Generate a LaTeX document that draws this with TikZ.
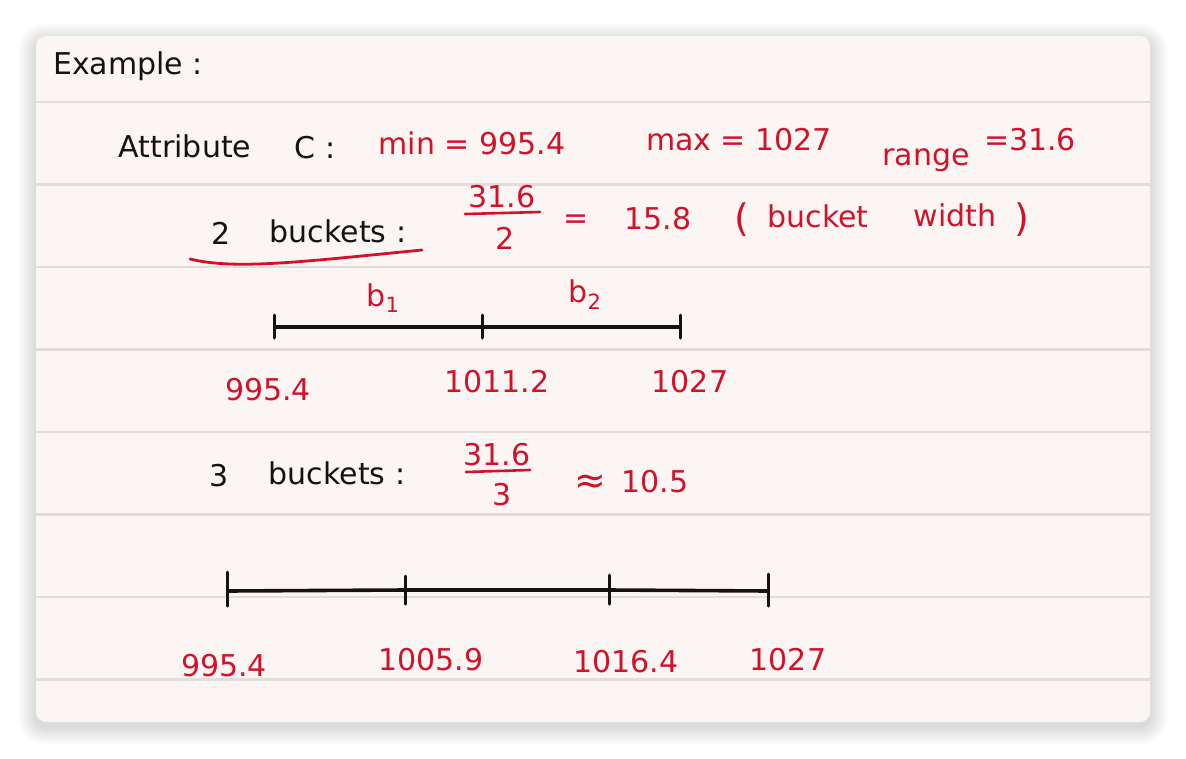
\documentclass[tikz,border=0pt]{standalone}
\usepackage{fontspec}
\setmainfont{DejaVu Sans}
\definecolor{ink}{RGB}{20,18,18}
\definecolor{redink}{RGB}{208,18,42}
\definecolor{paper}{RGB}{251,246,244}
\definecolor{rule}{RGB}{226,221,218}
\tikzset{
  hand/.style={inner sep=0pt, font=\fontsize{30}{32}\selectfont},
  blk/.style={hand, text=ink},
  rd/.style={hand, text=redink},
  big/.style={font=\fontsize{38}{40}\selectfont},
  axisline/.style={draw=ink, line width=3.6pt},
  tick/.style={draw=ink, line width=3pt, line cap=round},
  fracbar/.style={draw=redink, line width=2.6pt, line cap=round},
  paperline/.style={draw=rule, line width=2.6pt}
}
\begin{document}
\begin{tikzpicture}[x=1pt,y=-1pt]
\useasboundingbox (0,0) rectangle (1186,758);
\fill[white] (0,0) rectangle (1186,758);
% soft shadow
\foreach \i [evaluate=\i as \r using 10+\i] in {1,...,18} {
  \fill[black, opacity=0.008, rounded corners=\r pt] (36-\i,36-\i+5) rectangle (1150+\i,722+\i+5);
}
\fill[paper, rounded corners=10pt] (36,36) rectangle (1150,722);
% ruled lines
\foreach \yy in {102,184.5,267,349.5,432,514.5,597,679.5} {
  \draw[paperline] (36,\yy) -- (1150,\yy);
}
% heading
\node[blk] (ex) at (128,66) {Example :};
\node[blk] (attr) at (185,146) {Attribute};
\node[blk] (cc) at (315,148) {C :};
\node[rd] (min) at (472,143) {min = 995.4};
\node[rd] (max) at (739,140) {max = 1027};
\node[rd] (rng) at (926,160) {range};
\node[rd] (rngv) at (1030,140) {=31.6};
% 2 buckets
\node[blk] (two) at (221,233) {2};
\node[blk] (bk2) at (338,231) {buckets :};
\draw[redink, line width=2.8pt, line cap=round] (190,259) .. controls (235,270) and (300,262) .. (422,250);
\node[rd] (n2) at (502,197) {31.6};
\coordinate (f2a) at (465,214);
\coordinate (f2b) at (540,212);
\draw[fracbar] (f2a) -- (f2b);
\node[rd] (d2) at (505,238) {2};
\node[rd] (eq2) at (576,222) {=};
\node[rd] (w2) at (658,219) {15.8};
\node[rd, big] (lp) at (742,220) {(};
\node[rd] (bw1) at (818,216) {bucket};
\node[rd] (bw2) at (955,215) {width};
\node[rd, big] (rp) at (1022,220) {)};
% number line 1
\node[rd] (b1) at (383,298) {b\textsubscript{1}};
\node[rd] (b2) at (585,295) {b\textsubscript{2}};
\coordinate (a0) at (274,327);
\coordinate (a1) at (482,327);
\coordinate (a2) at (680,327);
\draw[axisline] (a0) -- (a1) -- (a2);
\foreach \p in {a0,a1,a2} { \draw[tick] ([yshift=-11pt]\p) -- ([yshift=12pt]\p); }
\node[rd] (l10) at (268,390) {995.4};
\node[rd] (l11) at (497,382) {1011.2};
\node[rd] (l12) at (690,382) {1027};
% 3 buckets
\node[blk] (three) at (219,476) {3};
\node[blk] (bk3) at (337,473) {buckets :};
\node[rd] (n3) at (497,455) {31.6};
\coordinate (f3a) at (466,472);
\coordinate (f3b) at (530,470);
\draw[fracbar] (f3a) -- (f3b);
\node[rd] (d3) at (502,495) {3};
\node[rd, big] (ap3) at (590,484) {≈};
\node[rd] (w3) at (655,482) {10.5};
% number line 2
\coordinate (c0) at (227,591);
\coordinate (c1) at (405,590);
\coordinate (c2) at (609,590);
\coordinate (c3) at (768,591);
\draw[axisline] (c0) -- (c1) -- (c2) -- (c3);
\draw[tick] ([yshift=-15pt]c0) -- ([yshift=19pt]c0);
\draw[tick] ([yshift=-14pt]c1) -- ([yshift=14pt]c1);
\draw[tick] ([yshift=-14pt]c2) -- ([yshift=15pt]c2);
\draw[tick] ([yshift=-15pt]c3) -- ([yshift=17pt]c3);
\node[rd] (l20) at (224,666) {995.4};
\node[rd] (l21) at (431,660) {1005.9};
\node[rd] (l22) at (626,662) {1016.4};
\node[rd] (l23) at (788,660) {1027};
\end{tikzpicture}
\end{document}
